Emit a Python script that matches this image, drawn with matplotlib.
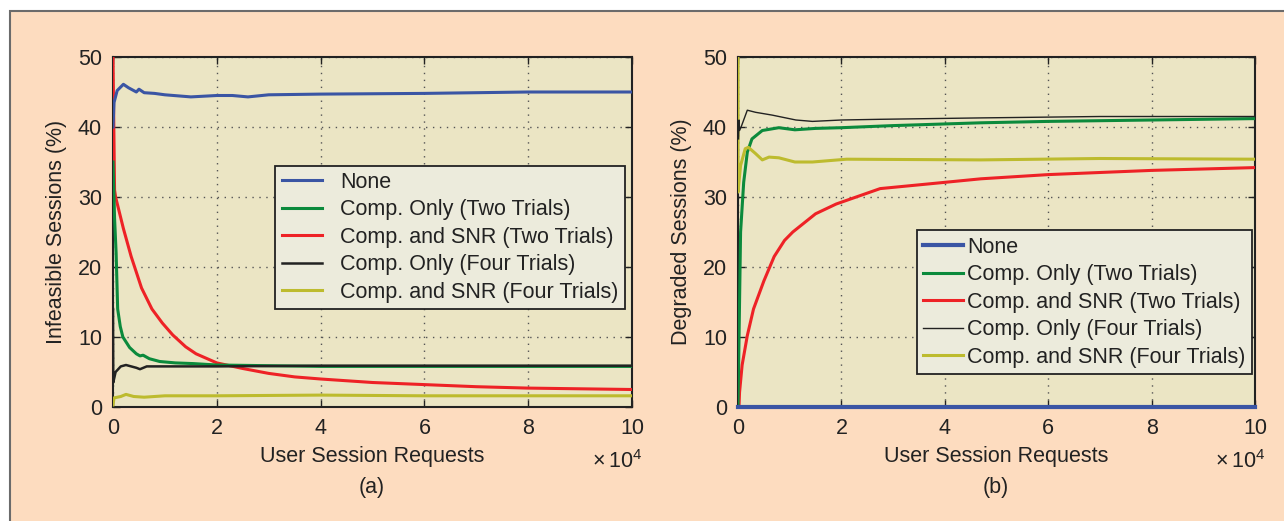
import matplotlib.pyplot as plt
import matplotlib.patches as patches
import numpy as np

plt.rcParams['font.family'] = ['Liberation Sans', 'DejaVu Sans']
plt.rcParams['mathtext.fontset'] = 'custom'
plt.rcParams['mathtext.rm'] = 'Liberation Sans'

labels = ['None', 'Comp. Only (Two Trials)', 'Comp. and SNR (Two Trials)',
          'Comp. Only (Four Trials)', 'Comp. and SNR (Four Trials)']
colors = ['#3a55a4', '#0b8a3c', '#ee2226', '#222222', '#bdbb2e']

########  (a) infeasible sessions, x in units of 1e4 requests  ########
a_none_x = [0, 0.02, 0.08, 0.2, 0.3, 0.45, 0.5, 0.6, 0.8, 1.0, 1.5, 2.0, 2.3, 2.6, 3.0, 4.0, 6.0, 8.0, 10.0]
a_none_y = [40, 43.5, 45.2, 46.1, 45.6, 45.0, 45.4, 44.9, 44.8, 44.6, 44.3, 44.5, 44.5, 44.3, 44.6, 44.7, 44.8, 45.0, 45.0]

a_c2_x = [0, 0.03, 0.06, 0.09, 0.14, 0.19, 0.32, 0.45, 0.52, 0.58, 0.7, 0.9, 1.2, 1.55, 2.0, 3.0, 4.0, 6.0, 10.0]
a_c2_y = [35, 27, 22, 14, 11.5, 10, 8.5, 7.6, 7.3, 7.4, 6.9, 6.5, 6.3, 6.2, 6.0, 5.9, 5.8, 5.8, 5.8]

a_s2_x = [0, 0.0, 0.03, 0.05, 0.1, 0.2, 0.35, 0.55, 0.75, 0.95, 1.15, 1.4, 1.6, 2.0, 2.5, 3.0, 3.5, 4.0, 5.0, 6.0, 7.0, 8.0, 9.0, 10.0]
a_s2_y = [50, 50, 31, 30, 28.5, 25.5, 21.5, 17, 14, 12, 10.3, 8.6, 7.6, 6.3, 5.5, 4.8, 4.3, 4.0, 3.5, 3.2, 2.9, 2.7, 2.6, 2.5]

a_c4_x = [0, 0.005, 0.05, 0.15, 0.25, 0.45, 0.52, 0.65, 1.0, 2.0, 4.0, 6.0, 8.0, 10.0]
a_c4_y = [14, 3.5, 5.0, 5.8, 6.0, 5.6, 5.4, 5.8, 5.8, 5.8, 5.9, 5.9, 5.9, 5.9]

a_s4_x = [0, 0.02, 0.15, 0.25, 0.4, 0.6, 1.0, 2.0, 4.0, 6.0, 8.0, 10.0]
a_s4_y = [0.3, 1.3, 1.5, 1.8, 1.5, 1.4, 1.6, 1.6, 1.7, 1.6, 1.6, 1.6]

########  (b) degraded sessions  ########
b_none_x = [0, 10.0]
b_none_y = [0, 0]

b_c2_x = [0, 0.02, 0.04, 0.05, 0.11, 0.18, 0.27, 0.47, 0.79, 1.1, 1.5, 2.0, 3.0, 4.7, 6.0, 8.0, 10.0]
b_c2_y = [0, 10, 20, 25, 32.1, 36.4, 38.3, 39.5, 39.9, 39.6, 39.8, 39.9, 40.2, 40.6, 40.8, 41.0, 41.2]

b_s2_x = [0, 0.02, 0.03, 0.08, 0.18, 0.3, 0.5, 0.7, 0.9, 1.06, 1.5, 1.9, 2.75, 3.73, 4.7, 6.0, 8.0, 10.0]
b_s2_y = [0, 0.2, 2.1, 6.0, 10.2, 14, 18, 21.5, 23.8, 25, 27.6, 29.0, 31.2, 31.9, 32.6, 33.2, 33.8, 34.2]

b_c4_x = [0.01, 0.02, 0.03, 0.06, 0.18, 0.34, 0.66, 1.12, 1.44, 2.0, 2.75, 4.7, 7.0, 10.0]
b_c4_y = [38.3, 41.0, 39.5, 40.0, 42.4, 42.1, 41.7, 41.0, 40.8, 41.0, 41.1, 41.3, 41.5, 41.5]

b_s4_x = [0, 0.0, 0.05, 0.14, 0.2, 0.34, 0.47, 0.6, 0.79, 1.1, 1.44, 2.1, 4.7, 7.0, 10.0]
b_s4_y = [50, 30.7, 34.5, 36.9, 37.1, 36.2, 35.3, 35.7, 35.6, 35.0, 35.0, 35.4, 35.3, 35.5, 35.4]

xticks = [0, 2, 4, 6, 8, 10]
yticks = [0, 10, 20, 30, 40, 50]

fs = 15.5
fig = plt.figure(figsize=(12.84, 5.21), dpi=100)
fig.patch.set_facecolor('white')
fig.patches.append(patches.Rectangle((10/1284, -0.05), 1.0, 1.05 - 11/521, transform=fig.transFigure,
                                     facecolor='#fddcbf', edgecolor='#6b6b6b', lw=1.5, zorder=-10))

ax1 = fig.add_axes([113/1284, 1-407/521, 519/1284, 350/521])
ax2 = fig.add_axes([738/1284, 1-407/521, 517/1284, 350/521])

series_a = [(a_none_x, a_none_y), (a_c2_x, a_c2_y), (a_s2_x, a_s2_y), (a_c4_x, a_c4_y), (a_s4_x, a_s4_y)]
series_b = [(b_none_x, b_none_y), (b_c2_x, b_c2_y), (b_s2_x, b_s2_y), (b_c4_x, b_c4_y), (b_s4_x, b_s4_y)]
order = [2, 0, 1, 4, 3]

for ax, series, lwblack in [(ax1, series_a, 1.8), (ax2, series_b, 1.0)]:
    ax.set_facecolor('#ebe5c4')
    handles = [None]*5
    for i in order:
        x, y = series[i]
        lw = lwblack if i == 3 else 2.2
        ln, = ax.plot(x, y, c=colors[i], lw=lw, label=labels[i], zorder=3, solid_joinstyle='round')
        handles[i] = ln
    ax.set_xlim(0, 10)
    ax.set_ylim(0, 50)
    ax.set_xticks(xticks)
    ax.set_yticks(yticks)
    ax.tick_params(direction='in', top=True, right=True, labelsize=fs, length=5, width=1,
                   colors='#222222', pad=8)
    ax.grid(True, ls=(0, (1, 4)), color='#555555', lw=1.0)
    for s in ax.spines.values():
        s.set_color('#222222')
        s.set_linewidth(1.5)
    ax.set_xlabel('User Session Requests', fontsize=fs, color='#222222', labelpad=5)
    ax.text(1.02, -0.155, r'$\times\,10^{4}$', transform=ax.transAxes, ha='right', va='center',
            fontsize=fs, color='#222222')
    ax.handles = handles

# the "None" series in (b) sits on zero and is drawn over the bottom spine
ax2.handles[0].set_clip_on(False)
ax2.handles[0].set_linewidth(3.0)
ax2.handles[0].set_zorder(5)

ax1.set_ylabel('Infeasible Sessions (%)', fontsize=fs, color='#222222', labelpad=8)
ax2.set_ylabel('Degraded Sessions (%)', fontsize=fs, color='#222222', labelpad=8)

leg1 = ax1.legend(handles=ax1.handles, loc='upper left', bbox_to_anchor=(0.313, 0.69),
                  fontsize=fs, frameon=True, fancybox=False, handlelength=1.85, handletextpad=0.85,
                  labelspacing=0.3, borderpad=0.3, borderaxespad=0)
leg2 = ax2.legend(handles=ax2.handles, loc='upper left', bbox_to_anchor=(0.346, 0.505),
                  fontsize=fs, frameon=True, fancybox=False, handlelength=1.85, handletextpad=0.2,
                  labelspacing=0.3, borderpad=0.3, borderaxespad=0)
for leg in (leg1, leg2):
    fr = leg.get_frame()
    fr.set_facecolor('#ecebdc')
    fr.set_edgecolor('#222222')
    fr.set_linewidth(1.3)
    fr.set_alpha(1)
    for t in leg.get_texts():
        t.set_color('#222222')

fig.text(372/1284, 1-488/521, '(a)', ha='center', va='center', fontsize=fs, color='#222222')
fig.text(996/1284, 1-488/521, '(b)', ha='center', va='center', fontsize=fs, color='#222222')

plt.savefig('out.png', dpi=100)
